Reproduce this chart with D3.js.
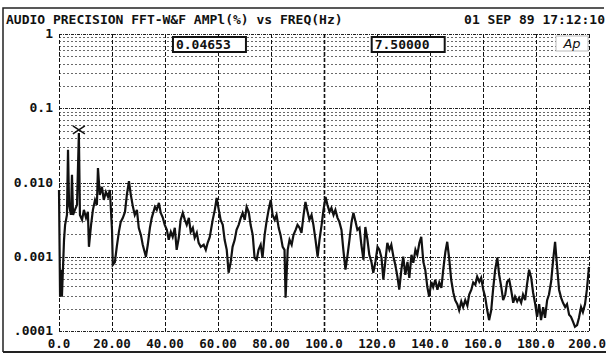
<!DOCTYPE html>
<html>
<head>
<meta charset="utf-8">
<script src="https://cdn.jsdelivr.net/npm/d3@7"></script>
<style>
  body { margin: 0; background: #fff; }
  text { font-family: "DejaVu Sans Mono", monospace; font-weight: bold; fill: #111; }
</style>
</head>
<body>
<div id="chart"></div>
<script>
const title = "AUDIO PRECISION FFT-W&F AMPl(%) vs FREQ(Hz)";
const stamp = "01 SEP 89 17:12:10";

const xTicks = [0, 20, 40, 60, 80, 100, 120, 140, 160, 180, 200];
const xTickLabels = ["0.0", "20.00", "40.00", "60.00", "80.00", "100.0", "120.0", "140.0", "160.0", "180.0", "200.0"];
const yTicks = [1, 0.1, 0.01, 0.001, 0.0001];
const yTickLabels = ["1", "0.1", "0.010", "0.001", ".0001"];

// cursor readout
const cursorFreq = 7.5;
const cursorAmp = 0.04653;
const readouts = ["0.04653", "7.50000"];

// [freq Hz, amplitude %]
const trace = [
  [0, 0.0079], [0.4, 0.00029], [0.8, 0.00067], [1.1, 0.00029], [1.9, 0.00169], [2.3, 0.00269],
  [3.0, 0.00366], [3.4, 0.0275], [3.8, 0.0050], [4.5, 0.00366], [4.9, 0.0127], [5.3, 0.00366],
  [6.0, 0.00428], [6.8, 0.0050], [7.5, 0.04653], [7.9, 0.00366], [8.7, 0.00314], [9.4, 0.00428],
  [10.2, 0.00334], [10.9, 0.00402], [11.3, 0.00136], [12.1, 0.00269], [12.8, 0.00428], [13.6, 0.00583],
  [14.3, 0.0050], [14.7, 0.0157], [15.4, 0.00681], [16.2, 0.00873], [16.9, 0.00583], [17.7, 0.00747],
  [18.5, 0.0064], [19.2, 0.00794], [20.0, 0.0023], [20.3, 0.00078], [21.1, 0.00085], [21.8, 0.00136],
  [22.6, 0.00216], [23.3, 0.00295], [24.1, 0.00334], [24.9, 0.00402], [25.6, 0.00681], [26.4, 0.0104],
  [27.1, 0.00681], [27.9, 0.0047], [28.6, 0.00366], [29.4, 0.00428], [30.1, 0.00245], [30.9, 0.00197],
  [31.6, 0.00145], [32.8, 0.0010], [33.5, 0.00145], [34.3, 0.00245], [35.0, 0.00334], [36.2, 0.0047],
  [36.9, 0.00428], [37.7, 0.00531], [38.4, 0.0039], [39.2, 0.00334], [39.9, 0.00269], [40.7, 0.0023],
  [41.4, 0.00169], [42.2, 0.00216], [42.9, 0.00185], [43.7, 0.00245], [44.4, 0.00124], [45.2, 0.0018],
  [45.9, 0.00314], [46.7, 0.0039], [47.5, 0.00314], [48.2, 0.00269], [49.0, 0.00334], [49.7, 0.00216],
  [50.5, 0.00245], [51.2, 0.0018], [52.0, 0.0021], [52.7, 0.00154], [53.5, 0.00136], [54.6, 0.00145],
  [55.4, 0.00124], [56.1, 0.00154], [56.9, 0.00185], [58.0, 0.00314], [58.8, 0.00428], [59.5, 0.00621],
  [60.3, 0.00428], [61.0, 0.00314], [61.8, 0.00269], [62.5, 0.00169], [63.3, 0.00124], [64.0, 0.00061],
  [64.8, 0.00085], [65.5, 0.00136], [66.3, 0.00169], [67.0, 0.0023], [67.8, 0.00269], [68.6, 0.00334],
  [69.3, 0.0039], [70.1, 0.00314], [70.8, 0.0047], [71.6, 0.0040], [72.3, 0.00269], [73.1, 0.00197],
  [73.8, 0.00097], [74.6, 0.00091], [75.3, 0.00124], [76.1, 0.00145], [76.8, 0.00097], [77.6, 0.00197],
  [78.3, 0.00295], [79.1, 0.00428], [79.9, 0.00583], [80.6, 0.00366], [81.4, 0.00314], [82.1, 0.00366],
  [82.9, 0.00245], [83.6, 0.00197], [84.4, 0.00136], [85.1, 0.00124], [85.5, 0.00028], [86.3, 0.00124],
  [87.0, 0.00169], [87.8, 0.00145], [88.5, 0.00197], [89.3, 0.0023], [90.0, 0.00269], [90.8, 0.00245],
  [91.5, 0.0021], [92.3, 0.00366], [93.0, 0.00548], [93.8, 0.00402], [94.5, 0.00314], [95.3, 0.00366],
  [96.0, 0.00269], [96.8, 0.00169], [97.6, 0.0010], [98.3, 0.00169], [99.1, 0.00269], [99.8, 0.00428],
  [100.6, 0.0064], [101.3, 0.0050], [102.1, 0.00402], [102.8, 0.00455], [103.6, 0.00366], [104.3, 0.00428],
  [105.1, 0.00334], [105.8, 0.00295], [106.6, 0.0023], [107.3, 0.00124], [108.1, 0.00067], [108.9, 0.00106],
  [109.6, 0.00169], [110.4, 0.00295], [111.1, 0.0039], [111.9, 0.00295], [112.6, 0.0023], [113.4, 0.00245],
  [114.1, 0.00145], [114.9, 0.00091], [115.6, 0.00252], [116.4, 0.00169], [117.1, 0.00106], [117.9, 0.00085],
  [118.6, 0.00061], [119.4, 0.00085], [120.2, 0.00136], [120.9, 0.00124], [121.7, 0.00097], [122.4, 0.00049],
  [123.2, 0.00091], [123.9, 0.00154], [124.7, 0.00124], [125.4, 0.00145], [126.2, 0.0010], [126.9, 0.00078],
  [127.7, 0.00054], [128.4, 0.00036], [129.2, 0.00067], [129.9, 0.0010], [130.7, 0.00057], [131.5, 0.00085],
  [132.2, 0.00052], [133.0, 0.00106], [133.7, 0.00083], [134.5, 0.00124], [135.2, 0.00106], [136.0, 0.00154],
  [136.7, 0.00185], [137.5, 0.00085], [138.2, 0.00067], [139.0, 0.00039], [139.7, 0.00029], [140.5, 0.00046],
  [141.2, 0.00039], [142.0, 0.00049], [142.8, 0.00036], [143.5, 0.00045], [144.3, 0.00038], [145.0, 0.00067],
  [145.8, 0.00116], [146.5, 0.00159], [147.3, 0.00091], [148.0, 0.00049], [148.8, 0.00033], [149.5, 0.00026],
  [150.3, 0.00023], [151.0, 0.00019], [151.8, 0.00025], [152.5, 0.00021], [153.3, 0.00026], [154.1, 0.00022],
  [154.8, 0.00031], [155.6, 0.00036], [156.3, 0.00045], [157.1, 0.00042], [157.8, 0.00054], [158.6, 0.00046],
  [159.3, 0.00052], [160.1, 0.00036], [160.8, 0.00029], [161.6, 0.00019], [162.3, 0.00014], [163.1, 0.00019],
  [163.8, 0.00036], [164.6, 0.00067], [165.4, 0.00097], [166.1, 0.00057], [166.9, 0.00039], [167.6, 0.00026],
  [168.4, 0.00031], [169.1, 0.00046], [169.9, 0.00049], [170.6, 0.00036], [171.4, 0.00024], [172.1, 0.00029],
  [172.9, 0.00025], [173.6, 0.00028], [174.4, 0.00024], [175.1, 0.00031], [175.9, 0.00026], [176.6, 0.00042],
  [177.4, 0.00067], [178.2, 0.00052], [178.9, 0.00033], [179.7, 0.00023], [180.4, 0.000155], [181.2, 0.00023],
  [181.9, 0.00014], [182.7, 0.00021], [183.4, 0.00015], [184.2, 0.00026], [184.9, 0.00031], [185.7, 0.00046],
  [186.4, 0.00085], [187.2, 0.00159], [187.9, 0.00078], [188.7, 0.00036], [189.5, 0.00028], [190.2, 0.00024],
  [191.0, 0.00021], [191.7, 0.00023], [192.5, 0.000165], [193.2, 0.000155], [194.0, 0.000133], [194.7, 0.000114],
  [195.5, 0.00012], [196.2, 0.00015], [197.0, 0.00021], [197.7, 0.00018], [198.5, 0.00023], [199.2, 0.00036],
  [200.0, 0.00073]
];

const W = 610, H = 355;
const margin = {top: 34, right: 20, bottom: 24, left: 59};

const svg = d3.select('#chart').append('svg')
  .attr('width', W)
  .attr('height', H);

// outer frame
svg.append('path')
  .attr('d', 'M3,352 L3,8 L604,8')
  .attr('fill', 'none')
  .attr('stroke', '#222')
  .attr('stroke-width', 1.5);
svg.append('line')
  .attr('x1', 3).attr('x2', 606).attr('y1', 352).attr('y2', 352)
  .attr('stroke', '#222').attr('stroke-width', 2);

svg.append('text')
  .attr('x', 6).attr('y', 24)
  .attr('font-size', 13)
  .text(title);
svg.append('text')
  .attr('x', 605).attr('y', 24)
  .attr('font-size', 13)
  .attr('text-anchor', 'end')
  .text(stamp);

const x = d3.scaleLinear()
  .domain([0, 200])
  .range([margin.left, W - margin.right - 1]);

const y = d3.scaleLog()
  .domain([0.0001, 1])
  .range([H - margin.bottom, margin.top]);

const g = svg.append('g');

// horizontal grid: every 1..9 x decade
const minor = [];
[0.0001, 0.001, 0.01, 0.1].forEach(dec => {
  for (let k = 2; k <= 9; k++) minor.push(dec * k);
});
g.selectAll('.hminor')
  .data(minor)
  .enter().append('line')
  .attr('class', 'hminor')
  .attr('x1', x(0)).attr('x2', x(200))
  .attr('y1', d => Math.round(y(d)) + 0.5)
  .attr('y2', d => Math.round(y(d)) + 0.5)
  .attr('stroke', '#444')
  .attr('stroke-width', 1)
  .attr('stroke-dasharray', '2,2')
  .attr('opacity', 0.8);

g.selectAll('.hmajor')
  .data(yTicks)
  .enter().append('line')
  .attr('class', 'hmajor')
  .attr('x1', x(0)).attr('x2', x(200))
  .attr('y1', d => Math.round(y(d)) + 0.5)
  .attr('y2', d => Math.round(y(d)) + 0.5)
  .attr('stroke', '#222')
  .attr('stroke-width', 1)
  .attr('stroke-dasharray', '3,1,1,1');

g.selectAll('.vgrid')
  .data(xTicks)
  .enter().append('line')
  .attr('class', 'vgrid')
  .attr('x1', d => Math.round(x(d)) + 0.5)
  .attr('x2', d => Math.round(x(d)) + 0.5)
  .attr('y1', y(1)).attr('y2', y(0.0001))
  .attr('stroke', '#111')
  .attr('stroke-width', d => d === 100 ? 1.6 : 1)
  .attr('stroke-dasharray', '4,2');

// tick labels
svg.selectAll('.ylab')
  .data(yTicks)
  .enter().append('text')
  .attr('class', 'ylab')
  .attr('x', 53)
  .attr('y', d => y(d) + 4)
  .attr('font-size', 13)
  .attr('text-anchor', 'end')
  .text((d, i) => yTickLabels[i]);

svg.selectAll('.xlab')
  .data(xTicks)
  .enter().append('text')
  .attr('class', 'xlab')
  .attr('x', d => d === 200 ? 606 : x(d))
  .attr('y', 348)
  .attr('font-size', 12.5)
  .attr('text-anchor', d => d === 200 ? 'end' : 'middle')
  .text((d, i) => xTickLabels[i]);

// trace
const line = d3.line()
  .x(d => x(d[0]))
  .y(d => y(d[1]));

g.append('path')
  .datum(trace)
  .attr('fill', 'none')
  .attr('stroke', '#111')
  .attr('stroke-width', 2.2)
  .attr('stroke-linejoin', 'miter')
  .attr('d', line);

// cursor marker
const cx = x(cursorFreq), cy = y(cursorAmp) - 3;
g.append('path')
  .attr('d', `M${cx - 6},${cy - 4} L${cx + 6},${cy + 4} M${cx - 6},${cy + 4} L${cx + 6},${cy - 4}`)
  .attr('stroke', '#111')
  .attr('stroke-width', 1.5);

// readout boxes, placed in frequency units along the top edge
const boxes = [
  {f0: 43, text: readouts[0]},
  {f0: 118, text: readouts[1]}
];
boxes.forEach(b => {
  svg.append('rect')
    .attr('x', x(b.f0)).attr('y', 37)
    .attr('width', 73).attr('height', 15)
    .attr('fill', '#fff')
    .attr('stroke', '#111')
    .attr('stroke-width', 2);
  svg.append('text')
    .attr('x', x(b.f0) + 3).attr('y', 49)
    .attr('font-size', 13)
    .text(b.text);
});

// Ap logo
svg.append('rect')
  .attr('x', 556).attr('y', 36)
  .attr('width', 32).attr('height', 15)
  .attr('fill', '#fff')
  .attr('stroke', '#bbb')
  .attr('stroke-width', 1);
svg.append('text')
  .attr('x', 572).attr('y', 48)
  .attr('text-anchor', 'middle')
  .attr('font-size', 13)
  .style('font-family', '"DejaVu Sans", sans-serif')
  .style('font-style', 'italic')
  .style('font-weight', 'normal')
  .text('Ap');
</script>
</body>
</html>
